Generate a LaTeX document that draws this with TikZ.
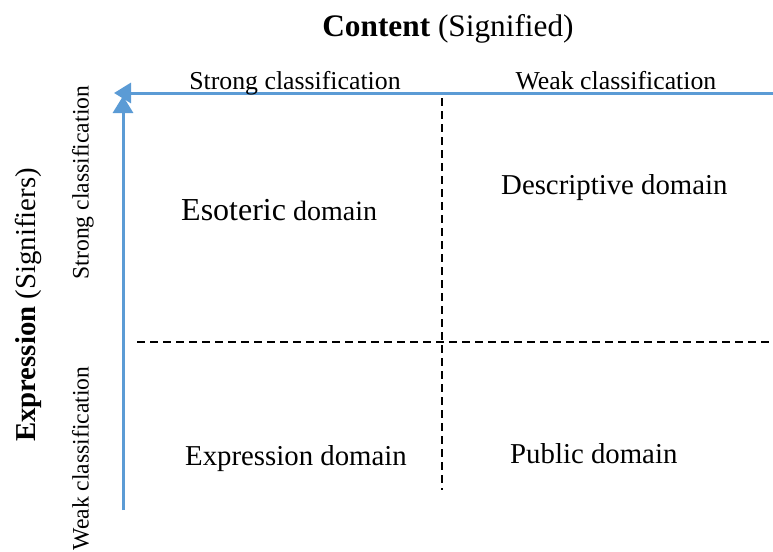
\documentclass[tikz,border=0pt]{standalone}
\usepackage{fontspec}
\setmainfont{Liberation Serif}
\usetikzlibrary{arrows.meta}
\definecolor{axisblue}{HTML}{5B9BD5}
\begin{document}
\begin{tikzpicture}[x=1pt,y=-1pt,
  axisline/.style={draw=axisblue,line width=3pt,-{Triangle[length=17pt,width=20pt]}},
  divider/.style={draw=black,line width=1.2pt,dash pattern=on 8pt off 5pt},
  lbl/.style={inner sep=0pt,font=\fontsize{25.8}{30}\selectfont},
  vlbl/.style={inner sep=0pt,rotate=90,anchor=base,font=\fontsize{23.6}{28}\selectfont},
  dom/.style={inner sep=0pt,anchor=base west,font=\fontsize{28.8}{34}\selectfont}]
\useasboundingbox (0,0) rectangle (773,551);
% axes
\coordinate (hstart) at (773,93);
\coordinate (htip) at (114,93);
\coordinate (vstart) at (123,510);
\coordinate (vtip) at (123,96);
\draw[axisline] (hstart) -- (htip);
\draw[axisline] (vstart) -- (vtip);
% dividers
\coordinate (vdtop) at (442,98);
\coordinate (vdbot) at (442,490);
\coordinate (hdleft) at (137,342);
\coordinate (hdright) at (773,342);
\draw[divider] (vdtop) -- (vdbot);
\draw[divider] (hdleft) -- (hdright);
% titles
\node (content) [inner sep=0pt,anchor=base,font=\fontsize{31.3}{36}\selectfont] at (448,37) {\textbf{Content} (Signified)};
\node (expr) [inner sep=0pt,rotate=90,anchor=base,font=\fontsize{28.8}{34}\selectfont] at (35,305) {\textbf{Expression} (Signifiers)};
% axis labels
\node (sc) [lbl,anchor=base] at (295,89) {Strong classification};
\node (wc) [lbl,anchor=base] at (616,89) {Weak classification};
\node (vsc) [vlbl] at (88.5,182.5) {Strong classification};
\node (vwc) [vlbl] at (88.5,458.5) {Weak classification};
% domains
\node (eso) [dom,font=\fontsize{28}{34}\selectfont] at (181,220) {{\fontsize{32}{38}\selectfont Esoteric} domain};
\node (desc) [dom] at (501,194) {Descriptive domain};
\node (exd) [dom] at (185,465) {Expression domain};
\node (pub) [dom] at (510,463) {Public domain};
\end{tikzpicture}
\end{document}
